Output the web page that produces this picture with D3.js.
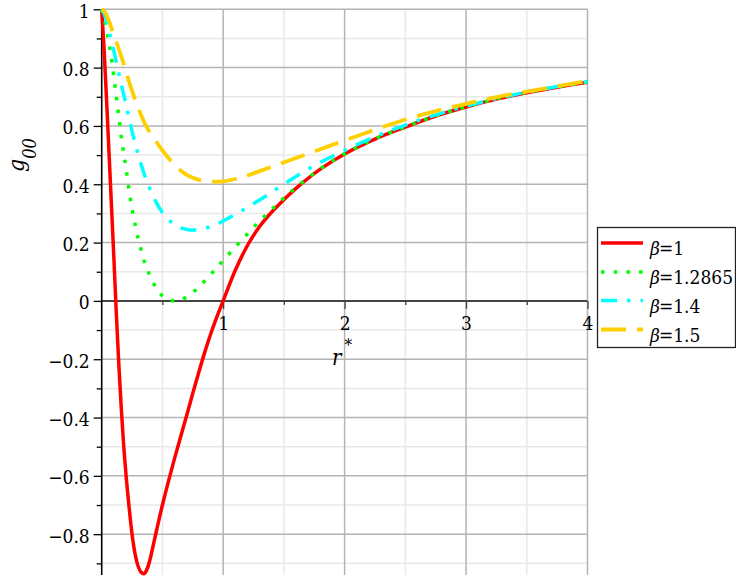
<!DOCTYPE html>
<html>
<head>
<meta charset="utf-8">
<script src="https://cdn.jsdelivr.net/npm/d3@7"></script>
<style>
  html, body { margin: 0; padding: 0; background: #fff; }
  svg { display: block; }
  svg text { font-family: "DejaVu Serif Condensed", "DejaVu Serif", serif; font-stretch: condensed; }
</style>
</head>
<body>
<svg id="chart" width="736" height="583"></svg>
<script>
// ---------------- data ----------------
const rValues = [0,0.02,0.04,0.06,0.08,0.1,0.12,0.14,0.16,0.18,0.2,0.225,0.25,0.275,0.3,0.325,0.35,0.375,0.4,0.45,0.5,0.55,0.6,0.65,0.7,0.75,0.8,0.85,0.9,0.95,1.0,1.1,1.2,1.3,1.4,1.5,1.6,1.8,2.0,2.25,2.5,2.75,3.0,3.25,3.5,3.75,4.0];

const gBeta1 = [1,0.86,0.69,0.51,0.33, 0.15,-0.04,-0.21,-0.36,-0.49, -0.595,-0.705,-0.80,-0.868,-0.91, -0.931,-0.935,-0.918,-0.883,-0.79, -0.70,-0.618,-0.54,-0.466,-0.392, -0.317,-0.244,-0.174,-0.11,-0.053, 0,0.105,0.19,0.255,0.305, 0.347,0.386,0.452,0.504,0.555, 0.596,0.634,0.665,0.692,0.714, 0.733,0.75];

const gBeta12865 = [1,0.97,0.93,0.885,0.833, 0.77,0.70,0.635,0.565,0.51, 0.455,0.38,0.318,0.262,0.213, 0.174,0.136,0.108,0.084,0.043, 0.017,0.004,0.0,0.003,0.014, 0.029,0.047,0.069,0.092,0.115, 0.139,0.185,0.23,0.274,0.314, 0.353,0.389,0.453,0.505,0.556, 0.597,0.635,0.666,0.693,0.715, 0.734,0.751];

const gBeta14 = [1,0.985,0.957,0.925,0.892, 0.857,0.82,0.782,0.745,0.71, 0.674,0.627,0.582,0.54,0.502, 0.467,0.435,0.406,0.381,0.337, 0.303,0.279,0.262,0.251,0.245, 0.243,0.245,0.249,0.255,0.263, 0.274,0.297,0.321,0.346,0.373, 0.40,0.427,0.475,0.516,0.563, 0.603,0.638,0.668,0.694,0.716, 0.735,0.752];

const gBeta15 = [1,0.995,0.98,0.96,0.936, 0.912,0.889,0.865,0.84,0.814, 0.787,0.752,0.72,0.69,0.663, 0.637,0.613,0.593,0.576,0.545, 0.516,0.49,0.467,0.447,0.432, 0.422,0.415,0.411,0.409,0.409, 0.41,0.418,0.43,0.445,0.46, 0.475,0.49,0.52,0.55,0.587, 0.622,0.651,0.676,0.699,0.718, 0.736,0.754];

const seriesLabels = ["1", "1.2865", "1.4", "1.5"];

const xMajorTicks = [1, 2, 3, 4];
const xMinorTicks = [0.5, 1.5, 2.5, 3.5];
const yMajorTicks = [-0.8, -0.6, -0.4, -0.2, 0, 0.2, 0.4, 0.6, 0.8, 1];
const yMinorTicks = [-0.9, -0.7, -0.5, -0.3, -0.1, 0.1, 0.3, 0.5, 0.7, 0.9];
const yTickLabels = ["\u22120.8", "\u22120.6", "\u22120.4", "\u22120.2", "0", "0.2", "0.4", "0.6", "0.8", "1"];

// ---------------- chart ----------------
const svg = d3.select("#chart");
const x = d3.scaleLinear().domain([0, 4]).range([101.7, 587.5]);
const y = d3.scaleLinear().domain([-0.94, 1]).range([575, 9.3]);

const styles = [
  { color: "#ff0000", width: 3.5, dash: null },
  { color: "#00ff00", width: 3.5, dash: "3.5 9.2" },
  { color: "#00ffff", width: 3.5, dash: "16 10 3.5 10" },
  { color: "#ffd000", width: 3.8, dash: "25 11" }
];
const seriesValues = [gBeta1, gBeta12865, gBeta14, gBeta15];

// grid
const grid = svg.append("g");
grid.selectAll(".xminor").data(xMinorTicks).join("line")
  .attr("x1", d => x(d)).attr("x2", d => x(d)).attr("y1", y(1)).attr("y2", y(-0.94))
  .attr("stroke", "#e8e8e8").attr("stroke-width", 1.5);
grid.selectAll(".yminor").data(yMinorTicks).join("line")
  .attr("x1", x(0)).attr("x2", x(4)).attr("y1", d => y(d)).attr("y2", d => y(d))
  .attr("stroke", "#e8e8e8").attr("stroke-width", 1.5);
grid.selectAll(".xmajor").data(xMajorTicks).join("line")
  .attr("x1", d => x(d)).attr("x2", d => x(d)).attr("y1", y(1)).attr("y2", y(-0.94))
  .attr("stroke", "#b4b4b4").attr("stroke-width", 1.5);
grid.selectAll(".ymajor").data(yMajorTicks.filter(d => d !== 0)).join("line")
  .attr("x1", x(0)).attr("x2", x(4)).attr("y1", d => y(d)).attr("y2", d => y(d))
  .attr("stroke", "#b4b4b4").attr("stroke-width", 1.5);

const fontSize = 19;
const yAxisMajor = d3.axisLeft(y).tickValues(yMajorTicks).tickSize(8).tickPadding(4)
  .tickFormat((d, i) => yTickLabels[i]);
const gy = svg.append("g").attr("transform", `translate(${x(0)},0)`).call(yAxisMajor)
  .attr("font-family", null);
gy.select(".domain").remove();
gy.selectAll(".tick line").attr("stroke", "#000").attr("stroke-width", 1.3);
gy.selectAll(".tick text").attr("font-size", fontSize).attr("fill", "#000").attr("dy", "0.42em");

const yAxisMinor = d3.axisLeft(y).tickValues(yMinorTicks).tickSize(5).tickFormat("");
const gy2 = svg.append("g").attr("transform", `translate(${x(0)},0)`).call(yAxisMinor);
gy2.select(".domain").remove();
gy2.selectAll(".tick line").attr("stroke", "#000").attr("stroke-width", 1.3);

const xAxisMajor = d3.axisBottom(x).tickValues(xMajorTicks).tickSize(8).tickPadding(8)
  .tickFormat(d3.format("d"));
const gx = svg.append("g").attr("transform", `translate(0,${y(0)})`).call(xAxisMajor)
  .attr("font-family", null);
gx.select(".domain").remove();
gx.selectAll(".tick line").attr("stroke", "#444").attr("stroke-width", 1.3);
gx.selectAll(".tick text").attr("font-size", fontSize).attr("fill", "#000");

const xAxisMinor = d3.axisBottom(x).tickValues(xMinorTicks).tickSize(4).tickFormat("");
const gx2 = svg.append("g").attr("transform", `translate(0,${y(0)})`).call(xAxisMinor);
gx2.select(".domain").remove();
gx2.selectAll(".tick line").attr("stroke", "#444").attr("stroke-width", 1.3);

svg.append("line").attr("x1", x(0)).attr("x2", x(4)).attr("y1", y(0)).attr("y2", y(0))
  .attr("stroke", "#444").attr("stroke-width", 2);
svg.append("line").attr("x1", x(0)).attr("x2", x(0)).attr("y1", y(1)).attr("y2", y(-0.94))
  .attr("stroke", "#000").attr("stroke-width", 1.6);

const line = d3.line().x(d => x(d[0])).y(d => y(d[1])).curve(d3.curveCatmullRom.alpha(0.5));
seriesValues.forEach((vals, i) => {
  const pts = rValues.map((r, k) => [r, vals[k]]);
  const s = styles[i];
  svg.append("path").datum(pts)
    .attr("d", line)
    .attr("fill", "none")
    .attr("stroke", s.color)
    .attr("stroke-width", s.width)
    .attr("stroke-linejoin", "round")
    .attr("stroke-dasharray", s.dash);
});

svg.append("text")
  .attr("x", 332).attr("y", 365)
  .attr("font-size", 22)
  .call(t => {
    t.append("tspan").attr("font-style", "italic").text("r");
    t.append("tspan").attr("font-size", 17).attr("dx", 3).attr("dy", -14).text("*");
  });

svg.append("text")
  .attr("transform", "translate(24,172) rotate(-90)")
  .attr("font-size", 23)
  .call(t => {
    t.append("tspan").attr("font-style", "italic").text("g");
    t.append("tspan").attr("font-style", "italic").attr("font-size", 18).attr("dy", 12).text("00");
  });

const legend = svg.append("g");
legend.append("rect")
  .attr("x", 597.5).attr("y", 227.5).attr("width", 138).attr("height", 120)
  .attr("fill", "#fff").attr("stroke", "#222").attr("stroke-width", 1.3);
const rowY = [243, 272, 300.5, 329.5];
seriesLabels.forEach((lab, i) => {
  const s = styles[i];
  legend.append("line")
    .attr("x1", 601).attr("x2", 643).attr("y1", rowY[i]).attr("y2", rowY[i])
    .attr("stroke", s.color).attr("stroke-width", s.width)
    .attr("stroke-dasharray", s.dash);
  legend.append("text")
    .attr("x", 650).attr("y", rowY[i] + 12)
    .attr("font-size", fontSize)
    .call(t => {
      t.append("tspan").attr("font-style", "italic").text("\u03b2");
      t.append("tspan").attr("dx", -1).text("=" + lab);
    });
});
</script>
</body>
</html>
